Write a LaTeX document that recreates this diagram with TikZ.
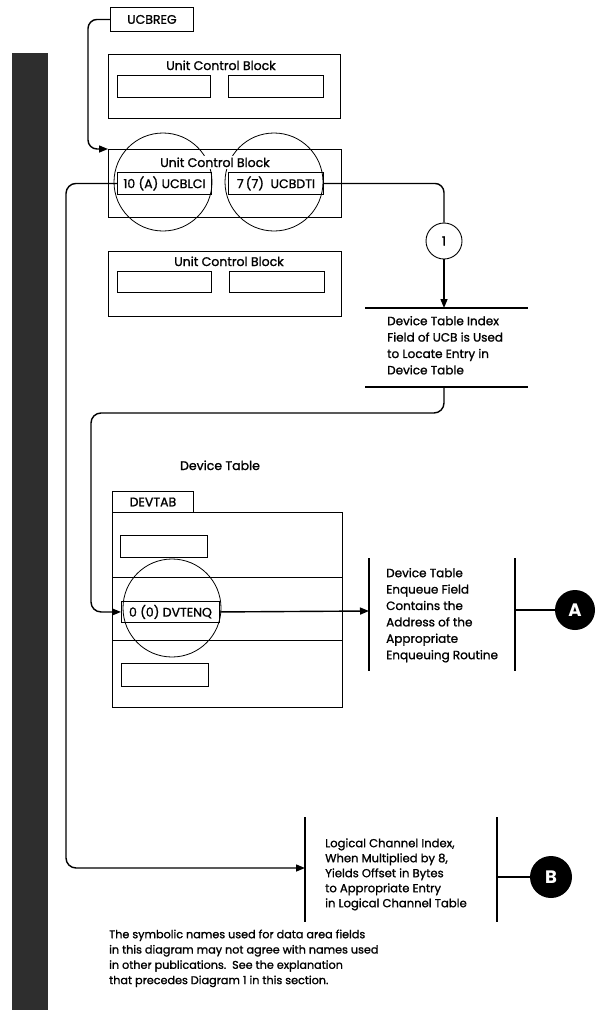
\documentclass[tikz,border=0pt]{standalone}
\usepackage{fontspec}
\setmainfont{Poppins}[FakeBold=1.2]
\newfontfamily\popbold{Poppins}
\usetikzlibrary{arrows.meta,calc}
\newcommand\fT{\fontsize{12.5}{15}\selectfont}
\newcommand\fA{\fontsize{12}{16.4}\selectfont}
\newcommand\fB{\fontsize{11.6}{15}\selectfont}
\newcommand\fC{\fontsize{11.2}{15.3}\selectfont}
\begin{document}
\begin{tikzpicture}[x=1pt,y=-1pt,
  box/.style={draw, line width=0.9pt, inner sep=0pt, anchor=north west},
  conn/.style={line width=1.4pt},
  arr/.style={conn, -{Triangle[length=9pt,width=7pt]}},
  rule/.style={line width=1.3pt},
  ring/.style={line width=0.8pt},
  txt/.style={anchor=north west, align=left, inner sep=0pt},
  blackcirc/.style={circle, fill=black, text=white, minimum size=40pt, inner sep=0pt, font=\popbold\fontsize{18}{18}\selectfont\bfseries}]
\path[use as bounding box] (0,0) rectangle (595,1010);
% shaded margin bar
\fill[black!82] (12,53) rectangle (48,1010);

% UCBREG
\node[box, minimum width=83pt, minimum height=24pt, font=\fT] (ucbreg) at (110,7) {UCBREG};

% Unit Control Block 1
\node[box, minimum width=232pt, minimum height=64pt] (ucb1) at (108,54) {};
\node[font=\fT, anchor=base] (ucb1t) at (221,70) {Unit Control Block};
\node[box, minimum width=93pt, minimum height=22pt] (ucb1a) at (117,75) {};
\node[box, minimum width=95pt, minimum height=22pt] (ucb1b) at (228,75) {};

% Unit Control Block 2
\node[box, minimum width=233pt, minimum height=68pt] (ucb2) at (108,149) {};
\draw[ring] (163,182) circle (49);
\draw[ring] (274,182) circle (49);
\node[font=\fT, anchor=base, fill=white, inner sep=1.5pt] (ucb2t) at (215,167) {Unit Control Block};
\node[box, minimum width=94pt, minimum height=22pt, font=\fT] (lci) at (117,172) {10 (A) UCBLCI};
\node[box, minimum width=95pt, minimum height=22pt, font=\fT] (dti) at (228,172) {7\,(7)\ \ UCBDTI};

% Unit Control Block 3
\node[box, minimum width=233pt, minimum height=65pt] (ucb3) at (108,251) {};
\node[font=\fT, anchor=base] (ucb3t) at (229,266) {Unit Control Block};
\node[box, minimum width=94pt, minimum height=21pt] (ucb3a) at (117,271) {};
\node[box, minimum width=95pt, minimum height=21pt] (ucb3b) at (229,271) {};

% UCBREG -> UCB 2
\draw[arr, rounded corners=9pt] (ucbreg.west) -- ++(-22,0) |- (ucb2.north west);

% step 1
\node[circle, draw, line width=0.9pt, minimum size=36pt, inner sep=0pt, font=\fT] (c1) at (444,241) {1};
\draw[conn, rounded corners=9pt] (dti.east) -| (c1.north);
\coordinate (tb1top) at (444,308);
\coordinate (tb1bot) at (444,387);
\draw[arr] (c1.south) -- (tb1top);
\draw[rule] (365,308) -- (528,308);
\draw[rule] (365,387) -- (528,387);
\node[txt, font=\fA] (tb1) at (387,313.5) {\strut Device Table Index\\Field of UCB is Used\\to Locate Entry in\\Device Table};

% Device table
\node[font=\fT, anchor=base] (dtlabel) at (220,470) {Device Table};
\node[box, minimum width=81pt, minimum height=21pt, font=\fT] (devtab) at (112,491) {DEVTAB};
\node[box, minimum width=230pt, minimum height=195pt] (dt) at (112,512) {};
\draw[line width=0.9pt] (112,577) -- (342,577);
\draw[line width=0.9pt] (112,640) -- (342,640);
\node[box, minimum width=87pt, minimum height=22pt] (dta) at (120,535) {};
\draw[ring] (172,608) circle (49);
\node[box, minimum width=98pt, minimum height=21pt, font=\fT] (enq) at (121,601) {0 (0) DVTENQ};
\node[box, minimum width=87pt, minimum height=23pt] (dtc) at (121,663) {};

% index -> DVTENQ
\coordinate (bend1) at (91,413);
\draw[arr, rounded corners=10pt] (tb1bot) |- (bend1) |- (enq.west);

% DVTENQ -> text block 2
\coordinate (tb2in) at (369,611);
\coordinate (tb2out) at (515,610);
\draw[arr] (enq.east) -- (tb2in);
\draw[rule] (369,558) -- (369,671);
\draw[rule] (515,558) -- (515,671);
\node[txt, font=\fA] (tb2) at (386,565.5) {\strut Device Table\\Enqueue Field\\Contains the\\Address of the\\Appropriate\\Enqueuing Routine};
\node[blackcirc] (A) at (575,610) {A};
\draw[conn] (tb2out) -- (A);

% UCBLCI -> text block 3
\coordinate (tb3in) at (305,868);
\coordinate (tb3out) at (497,877);
\coordinate (bend2) at (66,868);
\draw[arr, rounded corners=10pt] (lci.west) -| (bend2) -- (tb3in);
\draw[rule] (305,817) -- (305,922);
\draw[rule] (497,817) -- (497,922);
\node[txt, font=\fB] (tb3) at (325,836.5) {\strut Logical Channel Index,\\When Multiplied by 8,\\Yields Offset in Bytes\\to Appropriate Entry\\in Logical Channel Table};
\node[blackcirc, minimum size=42pt] (B) at (551,877) {B};
\draw[conn] (tb3out) -- (B);

% footnote
\node[txt, font=\fC] (note) at (109,927.3) {\strut The symbolic names used for data area fields\\in this diagram may not agree with names used\\in other publications.\ \ See the explanation\\that precedes Diagram 1 in this section.};
\end{tikzpicture}
\end{document}
